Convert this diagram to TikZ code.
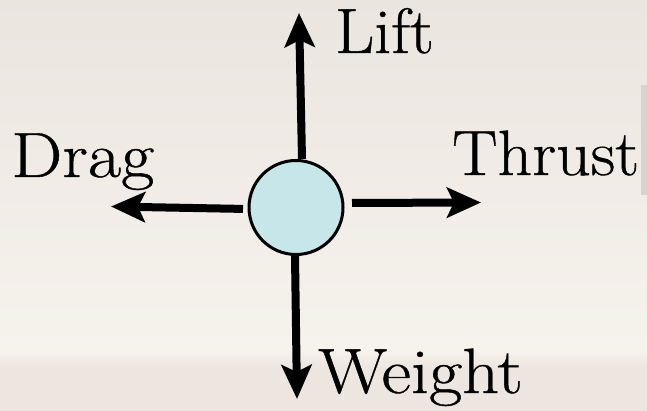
\documentclass[tikz,border=0pt]{standalone}
\usepackage{fontspec}
\usetikzlibrary{arrows.meta}
\newfontfamily\lblfont{Latin Modern Roman}[FakeStretch=1.06, FakeBold=0.6]
\newfontfamily\lblwidefont{Latin Modern Roman}[FakeStretch=1.13, FakeBold=0.6]
\definecolor{bgtop}{HTML}{EBE5E0}
\definecolor{bgmid}{HTML}{F6F2EC}
\definecolor{bgbot}{HTML}{ECE5E0}
\definecolor{ballfill}{HTML}{C6E6EA}
\definecolor{edgegrey}{HTML}{D9D3CF}
\tikzset{
  force/.style={line width=8pt, -{Stealth[length=34pt,width=30pt,inset=7pt]}},
  lbl/.style={anchor=base west, inner sep=0pt, font=\lblfont\fontsize{64}{72}\selectfont},
  widelbl/.style={lbl, font=\lblwidefont\fontsize{64}{72}\selectfont},
  ball/.style={circle, draw=black, line width=3pt, fill=ballfill, minimum size=94pt, inner sep=0pt}
}
\begin{document}
\begin{tikzpicture}[x=1pt,y=-1pt]
\useasboundingbox (0,0) rectangle (647,411);
\shade[top color=bgtop, bottom color=bgmid] (0,0) rectangle (647,350);
\shade[top color=bgmid, bottom color=bgbot] (0,349.5) rectangle (647,368);
\fill[bgbot] (0,367.5) rectangle (647,411);
\fill[edgegrey] (641,85) rectangle (647,195);

\node[ball] (c) at (296,207.5) {};
\coordinate (lifttip) at (299,13);
\coordinate (weighttip) at (297,399);
\coordinate (dragtip) at (111,206.5);
\coordinate (thrusttip) at (481,202.5);

\draw[force] ([xshift=6pt]c.north) -- (lifttip);
\draw[force] ([xshift=-1pt]c.south) -- (weighttip);
\draw[force, shorten <=4.5pt] ([yshift=-1.5pt]c.west) -- (dragtip);
\draw[force, shorten <=7.5pt] ([yshift=4.5pt]c.east) -- (thrusttip);

\node[lbl] (lift) at (335,53) {Lift};
\node[widelbl] (drag) at (11,177) {Drag};
\node[lbl] (thrust) at (452,175) {Thrust};
\node[widelbl] (weight) at (318,393) {Weight};
\end{tikzpicture}
\end{document}
